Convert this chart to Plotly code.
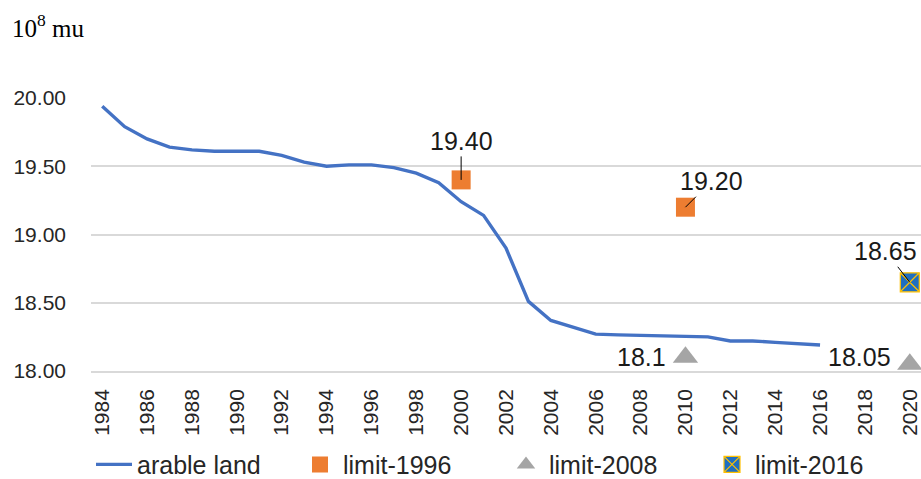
import plotly.graph_objects as go

# arable land, 10^8 mu
years = list(range(1984, 2017))
arable = [19.94, 19.79, 19.70, 19.64, 19.62, 19.61, 19.61, 19.61, 19.58, 19.53,
          19.50, 19.51, 19.51, 19.49, 19.45, 19.38, 19.24, 19.14, 18.90, 18.51,
          18.37, 18.32, 18.27, 18.265, 18.26, 18.26, 18.255, 18.25, 18.22, 18.22,
          18.21, 18.20, 18.19]

# red-line limits
limit1996_x = [2000, 2010]
limit1996_y = [19.40, 19.20]
limit2008_x = [2010, 2020]
limit2008_y = [18.1, 18.05]
limit2016_x = [2020]
limit2016_y = [18.65]

label_1996 = ["19.40", "19.20"]
label_2008 = ["18.1", "18.05"]
label_2016 = ["18.65"]

tick_years = list(range(1984, 2021, 2))

FONT = "Liberation Sans"

fig = go.Figure()

fig.add_trace(go.Scatter(
    x=years, y=arable, mode="lines", name="arable land",
    line=dict(color="#4472C4", width=3.4),
    cliponaxis=False,
))
fig.add_trace(go.Scatter(
    x=limit1996_x, y=limit1996_y, mode="markers", name="limit-1996",
    marker=dict(symbol="square", size=19, color="#ED7D31"),
    cliponaxis=False,
))
fig.add_trace(go.Scatter(
    x=limit2008_x, y=limit2008_y, mode="markers", name="limit-2008",
    marker=dict(symbol="triangle-up", size=22, color="#A5A5A5"),
    cliponaxis=False,
))
fig.add_trace(go.Scatter(
    x=limit2016_x, y=limit2016_y, mode="markers", name="limit-2016",
    marker=dict(symbol="square-x", size=19, color="#1F6FC0",
                line=dict(color="#FFC000", width=1.2)),
    cliponaxis=False,
))

label_font = dict(family=FONT, size=25, color="#1a1a1a")

# labels with leader lines
offsets_1996 = [(0, -39), (26, -26)]
for x, y, t, (ax, ay) in zip(limit1996_x, limit1996_y, label_1996, offsets_1996):
    fig.add_annotation(x=x, y=y, text=t, showarrow=True, arrowhead=0,
                       arrowwidth=1, arrowcolor="#000000", standoff=0,
                       ax=ax, ay=ay, font=label_font)
for x, y, t in zip(limit2016_x, limit2016_y, label_2016):
    fig.add_annotation(x=x, y=y, text=t, showarrow=True, arrowhead=0,
                       arrowwidth=1, arrowcolor="#000000", standoff=0,
                       ax=-24, ay=-31, font=label_font)
# labels beside the triangles
shifts_2008 = [(-44, 0), (-50, 7)]
for x, y, t, (xs, ys) in zip(limit2008_x, limit2008_y, label_2008, shifts_2008):
    fig.add_annotation(x=x, y=y, text=t, showarrow=False,
                       xshift=xs, yshift=ys, font=label_font)

# unit label
fig.add_annotation(xref="paper", yref="paper", x=-0.098, y=1.262,
                   xanchor="left", yanchor="middle", showarrow=False,
                   text="10<sup>8</sup> mu",
                   font=dict(family="Liberation Serif", size=25, color="#000000"))

fig.update_layout(
    width=921, height=479,
    margin=dict(l=91, r=0, t=98, b=108),
    paper_bgcolor="white", plot_bgcolor="white",
    font=dict(family=FONT, color="#262626"),
    showlegend=True,
    legend=dict(orientation="h", yref="container", y=0.03, yanchor="middle",
                x=0, xanchor="left", xref="paper",
                font=dict(family=FONT, size=25, color="#262626"),
                entrywidth=155, entrywidthmode="pixels", itemwidth=36,
                itemsizing="trace", bgcolor="rgba(0,0,0,0)"),
)

fig.update_xaxes(
    range=[1983.5, 2020.5], tickmode="array", tickvals=tick_years,
    ticktext=[str(y) for y in tick_years], tickangle=-90,
    tickfont=dict(family=FONT, size=21, color="#262626"),
    showgrid=False, zeroline=False, showline=True, linecolor="#D9D9D9",
    linewidth=1.5, ticks="", ticklabelstandoff=8,
)
fig.update_yaxes(
    range=[18, 20], tickmode="array", tickvals=[18, 18.5, 19, 19.5, 20],
    ticktext=["18.00", "18.50", "19.00", "19.50", "20.00"],
    tickfont=dict(family=FONT, size=21, color="#262626"),
    showgrid=True, gridcolor="#D9D9D9", gridwidth=1.5, zeroline=False,
    showline=False, ticks="", ticklabelstandoff=24,
)

# page body has an 8px default margin; drop it so the figure sits at 0,0
fig.write_html("out.html", config={"displayModeBar": False},
               post_script="document.body.style.margin='0';")
